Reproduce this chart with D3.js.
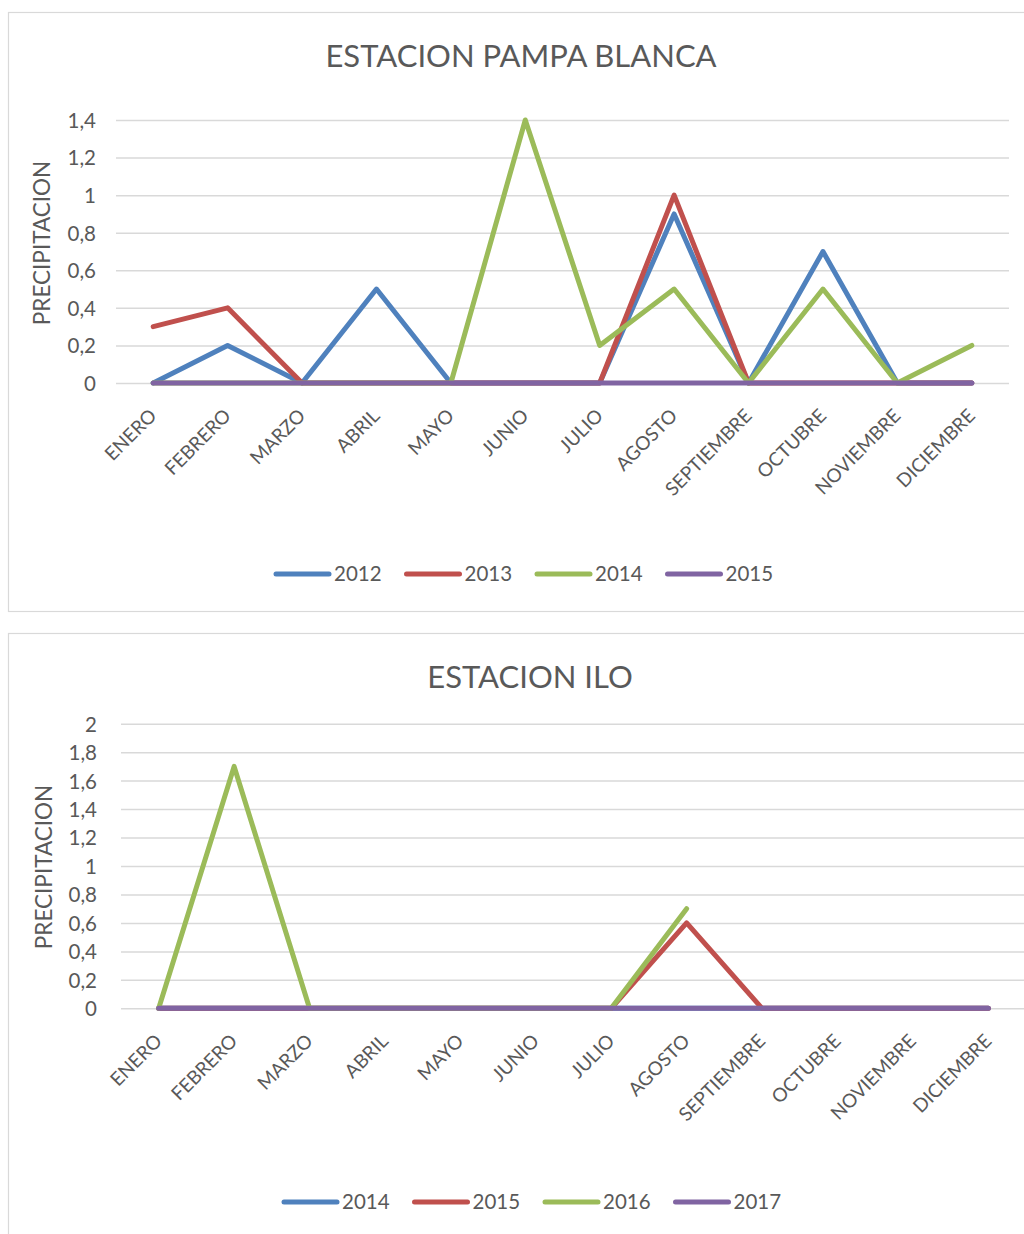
<!DOCTYPE html>
<html>
<head>
<meta charset="utf-8">
<script src="https://cdn.jsdelivr.net/npm/d3@7"></script>
<style>
  html, body { margin: 0; padding: 0; background: #ffffff; }
  svg { display: block; }
  text { font-family: Lato, "Open Sans", sans-serif; fill: #595959; }
</style>
</head>
<body>
<svg id="chart" width="1024" height="1234"></svg>
<script>
// Months on the category axis
const months = ["ENERO", "FEBRERO", "MARZO", "ABRIL", "MAYO", "JUNIO",
                "JULIO", "AGOSTO", "SEPTIEMBRE", "OCTUBRE", "NOVIEMBRE", "DICIEMBRE"];

// Estación Pampa Blanca – monthly precipitation by year
const pampaYears = ["2012", "2013", "2014", "2015"];
const pampa2012 = [0, 0.2, 0, 0.5, 0, 0, 0, 0.9, 0, 0.7, 0, 0];
const pampa2013 = [0.3, 0.4, 0, 0, 0, 0, 0, 1.0, 0, 0, 0, 0];
const pampa2014 = [0, 0, 0, 0, 0, 1.4, 0.2, 0.5, 0, 0.5, 0, 0.2];
const pampa2015 = [0, 0, 0, 0, 0, 0, 0, 0, 0, 0, 0, 0];
const pampaTicks = [0, 0.2, 0.4, 0.6, 0.8, 1, 1.2, 1.4];

// Estación Ilo – monthly precipitation by year (2016 has no data after August)
const iloYears = ["2014", "2015", "2016", "2017"];
const ilo2014 = [0, 0, 0, 0, 0, 0, 0, 0, 0, 0, 0, 0];
const ilo2015 = [0, 0, 0, 0, 0, 0, 0, 0.6, 0, 0, 0, 0];
const ilo2016 = [0, 1.7, 0, 0, 0, 0, 0, 0.7, null, null, null, null];
const ilo2017 = [0, 0, 0, 0, 0, 0, 0, 0, 0, 0, 0, 0];
const iloTicks = [0, 0.2, 0.4, 0.6, 0.8, 1, 1.2, 1.4, 1.6, 1.8, 2];

const seriesColors = ["#4f81bd", "#c0504d", "#9bbb59", "#8064a2"];
const fmt = v => String(v).replace(".", ",");

const svg = d3.select("#chart");

function drawChart(cfg) {
  const g = svg.append("g");

  // chart frame
  g.append("rect")
    .attr("x", cfg.box.x + 0.5).attr("y", cfg.box.y + 0.5)
    .attr("width", cfg.box.w).attr("height", cfg.box.h)
    .attr("fill", "#fff").attr("stroke", "#d9d9d9").attr("stroke-width", 1.2);

  // title
  g.append("text")
    .attr("x", cfg.titleX).attr("y", cfg.titleY)
    .attr("text-anchor", "middle")
    .style("font-size", "31px")
    .text(cfg.title);

  const x = d3.scalePoint().domain(months).range([cfg.xLeft, cfg.xRight]).padding(0.5);
  const y = d3.scaleLinear().domain([0, cfg.yMax]).range([cfg.yBottom, cfg.yTop]);

  // horizontal gridlines + value labels
  const yAxis = d3.axisLeft(y).tickValues(cfg.ticks).tickSize(-(cfg.xRight - cfg.xLeft)).tickFormat(fmt);
  const ya = g.append("g").attr("transform", `translate(${cfg.xLeft},0)`).call(yAxis);
  ya.select(".domain").remove();
  ya.selectAll(".tick line").attr("stroke", "#d9d9d9").attr("stroke-width", 1.5);
  ya.selectAll(".tick text")
    .attr("x", cfg.tickLabelX - cfg.xLeft)
    .attr("dy", "0.36em")
    .attr("fill", "#595959")
    .style("font-size", "20.5px")
    .style("font-family", "Lato, 'Open Sans', sans-serif");

  // category labels, rotated
  const xAxis = d3.axisBottom(x).tickSize(0);
  const xa = g.append("g").attr("transform", `translate(0,${cfg.yBottom})`).call(xAxis);
  xa.select(".domain").remove();
  xa.selectAll(".tick text")
    .attr("y", 0).attr("dy", 0)
    .attr("text-anchor", "end")
    .attr("transform", "translate(4,34) rotate(-45)")
    .attr("fill", "#595959")
    .style("font-size", "19px")
    .style("font-family", "Lato, 'Open Sans', sans-serif");

  // axis title
  g.append("text")
    .attr("transform", `translate(${cfg.axisTitleX},${cfg.axisTitleY}) rotate(-90)`)
    .attr("text-anchor", "middle")
    .style("font-size", "22.5px")
    .text("PRECIPITACION");

  // series lines
  const line = d3.line()
    .defined(d => d != null)
    .x((d, i) => x(months[i]))
    .y(d => y(d));

  cfg.series.forEach((vals, i) => {
    g.append("path")
      .datum(vals)
      .attr("d", line)
      .attr("fill", "none")
      .attr("stroke", seriesColors[i])
      .attr("stroke-width", 5)
      .attr("stroke-linejoin", "round")
      .attr("stroke-linecap", "round");
  });

  // legend
  const leg = g.append("g").attr("transform", `translate(${cfg.legendX},${cfg.legendY})`);
  cfg.years.forEach((yr, i) => {
    const item = leg.append("g").attr("transform", `translate(${i * 130.5},0)`);
    item.append("line")
      .attr("x1", 2).attr("x2", 55).attr("y1", 0).attr("y2", 0)
      .attr("stroke", seriesColors[i]).attr("stroke-width", 5)
      .attr("stroke-linecap", "round");
    item.append("text")
      .attr("x", 60).attr("y", 0).attr("dy", "0.36em")
      .style("font-size", "20.5px")
      .text(yr);
  });
}

drawChart({
  box: { x: 8, y: 12, w: 1030, h: 599 },
  title: "ESTACION PAMPA BLANCA",
  titleX: 521, titleY: 67,
  xLeft: 116, xRight: 1009,
  yTop: 120, yBottom: 383, yMax: 1.4,
  ticks: pampaTicks,
  tickLabelX: 96,
  axisTitleX: 50, axisTitleY: 243,
  years: pampaYears,
  series: [pampa2012, pampa2013, pampa2014, pampa2015],
  legendX: 274, legendY: 574
});

drawChart({
  box: { x: 8, y: 633, w: 1030, h: 620 },
  title: "ESTACION ILO",
  titleX: 530, titleY: 688,
  xLeft: 121, xRight: 1026,
  yTop: 723.7, yBottom: 1008.3, yMax: 2,
  ticks: iloTicks,
  tickLabelX: 97,
  axisTitleX: 52, axisTitleY: 867,
  years: iloYears,
  series: [ilo2014, ilo2015, ilo2016, ilo2017],
  legendX: 282, legendY: 1202
});
</script>
</body>
</html>
